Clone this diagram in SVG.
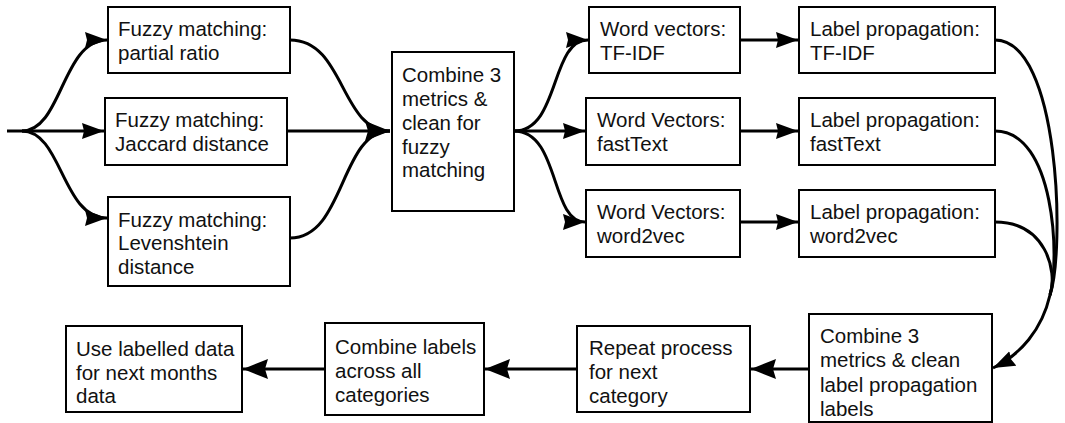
<svg xmlns="http://www.w3.org/2000/svg" width="1065" height="423" viewBox="0 0 1065 423">
<style>
.box{fill:#fff;stroke:#000;stroke-width:2}
text{font-family:"Liberation Sans",Arial,sans-serif;font-size:20.5px;fill:#111}
.c{fill:none;stroke:#000;stroke-width:3}
</style>
<defs>
<marker id="ah" markerUnits="userSpaceOnUse" markerWidth="26" markerHeight="20" refX="22" refY="8" orient="auto">
<path d="M0,0 L22,8 L0,16 L2,8 Z" fill="#000"/>
</marker>
<marker id="ahb" markerUnits="userSpaceOnUse" markerWidth="28" markerHeight="24" refX="25" refY="10" orient="auto">
<path d="M0,0 L25,10 L0,20 L3,10 Z" fill="#000"/>
</marker>
</defs>
<rect width="1065" height="423" fill="#fff"/>
<g id="connectors">
<path class="c" d="M7,131 L22,131"/>
<path class="c" d="M22,131 C62,131 62,40 107,40" marker-end="url(#ah)"/>
<path class="c" d="M22,131 L104,131" marker-end="url(#ah)"/>
<path class="c" d="M22,131 C62,131 62,218 107,218" marker-end="url(#ah)"/>
<path class="c" d="M290,40 C345,40 340,131 390,131"/>
<path class="c" d="M287,131 L390,131" marker-end="url(#ahb)"/>
<path class="c" d="M290,238 C345,238 340,131 390,131"/>
<path class="c" d="M514,131 C560,131 550,40 588,40" marker-end="url(#ah)"/>
<path class="c" d="M514,131 L585,131" marker-end="url(#ah)"/>
<path class="c" d="M514,131 C560,131 550,222 585,222" marker-end="url(#ah)"/>
<path class="c" d="M740,40 L798,40" marker-end="url(#ah)"/>
<path class="c" d="M740,131 L798,131" marker-end="url(#ah)"/>
<path class="c" d="M740,222 L798,222" marker-end="url(#ah)"/>
<path class="c" d="M995,40 C1060,40 1065,250 1050,295"/>
<path class="c" d="M995,131 C1055,131 1060,260 1050,295"/>
<path class="c" d="M995,222 C1045,222 1058,270 1050,295"/>
<path class="c" d="M1050,295 C1042,330 1020,355 993,368" marker-end="url(#ah)"/>
<path class="c" d="M809,369 L751,369" marker-end="url(#ahb)"/>
<path class="c" d="M577,369 L485,369" marker-end="url(#ahb)"/>
<path class="c" d="M325,369 L243,369" marker-end="url(#ahb)"/>
</g>
<g id="n1"><rect class="box" x="108" y="7" width="182" height="66"/><text x="118" y="36">Fuzzy matching:</text><text x="118" y="60">partial ratio</text></g>
<g id="n2"><rect class="box" x="105" y="98" width="182" height="67"/><text x="115" y="127">Fuzzy matching:</text><text x="115" y="151">Jaccard distance</text></g>
<g id="n3"><rect class="box" x="108" y="197" width="182" height="89"/><text x="118" y="227">Fuzzy matching:</text><text x="118" y="250">Levenshtein</text><text x="118" y="274">distance</text></g>
<g id="n4"><rect class="box" x="392" y="52" width="122" height="159"/><text x="402" y="82">Combine 3</text><text x="402" y="106">metrics &amp;</text><text x="402" y="130">clean for</text><text x="402" y="154">fuzzy</text><text x="402" y="177">matching</text></g>
<g id="n5"><rect class="box" x="589" y="7" width="151" height="66"/><text x="600" y="36">Word vectors:</text><text x="600" y="60">TF-IDF</text></g>
<g id="n6"><rect class="box" x="586" y="98" width="154" height="67"/><text x="597" y="127">Word Vectors:</text><text x="597" y="151">fastText</text></g>
<g id="n7"><rect class="box" x="586" y="190" width="154" height="67"/><text x="597" y="219">Word Vectors:</text><text x="597" y="243">word2vec</text></g>
<g id="n8"><rect class="box" x="799" y="7" width="196" height="66"/><text x="810" y="36">Label propagation:</text><text x="810" y="60">TF-IDF</text></g>
<g id="n9"><rect class="box" x="799" y="98" width="196" height="67"/><text x="810" y="127">Label propagation:</text><text x="810" y="151">fastText</text></g>
<g id="n10"><rect class="box" x="799" y="190" width="196" height="67"/><text x="810" y="219">Label propagation:</text><text x="810" y="243">word2vec</text></g>
<g id="n11"><rect class="box" x="809" y="314" width="183" height="108"/><text x="820" y="343">Combine 3</text><text x="820" y="367">metrics &amp; clean</text><text x="820" y="392">label propagation</text><text x="820" y="416">labels</text></g>
<g id="n12"><rect class="box" x="577" y="326" width="173" height="86"/><text x="589" y="355">Repeat process</text><text x="589" y="379">for next</text><text x="589" y="403">category</text></g>
<g id="n13"><rect class="box" x="325" y="323" width="159" height="92"/><text x="335" y="354">Combine labels</text><text x="335" y="378">across all</text><text x="335" y="402">categories</text></g>
<g id="n14"><rect class="box" x="66" y="326" width="176" height="86"/><text x="76" y="356">Use labelled data</text><text x="76" y="380">for next months</text><text x="76" y="403">data</text></g>
</svg>
